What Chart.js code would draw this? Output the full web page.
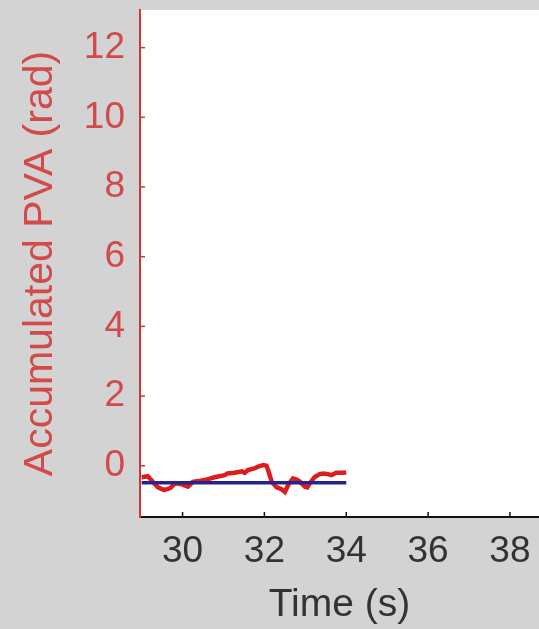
<!DOCTYPE html>
<html>
<head>
<meta charset="utf-8">
<script src="https://cdn.jsdelivr.net/npm/chart.js@4/dist/chart.umd.min.js"></script>
<style>
  html, body { margin: 0; padding: 0; background: #d3d3d3; }
  #wrap { width: 539px; height: 629px; }
</style>
</head>
<body>
<div id="wrap"><canvas id="chart" width="539" height="629"></canvas></div>
<script>
// Datos
const redTime = [29.00, 29.15, 29.27, 29.40, 29.55, 29.70, 29.82, 29.95, 30.13, 30.25, 30.40, 30.54,
  30.78, 31.03, 31.10, 31.27, 31.45, 31.52, 31.60, 31.77, 31.85, 31.97, 32.05, 32.09, 32.18, 32.30,
  32.40, 32.50, 32.58, 32.70, 32.80, 32.87, 32.99, 33.05, 33.11, 33.23, 33.35, 33.44, 33.55, 33.64,
  33.75, 33.89, 34.00];
const redPVA = [-0.33, -0.30, -0.46, -0.62, -0.70, -0.64, -0.50, -0.52, -0.60, -0.46, -0.44, -0.41,
  -0.33, -0.27, -0.22, -0.20, -0.16, -0.20, -0.12, -0.07, -0.02, 0.02, 0.00, -0.12, -0.46, -0.62,
  -0.66, -0.75, -0.55, -0.36, -0.40, -0.46, -0.60, -0.62, -0.50, -0.32, -0.24, -0.22, -0.24, -0.27,
  -0.20, -0.20, -0.19];
const blueTime = [29.00, 34.00];
const bluePVA = [-0.49, -0.49];
const xTicks = [30, 32, 34, 36, 38];
const yTicks = [0, 2, 4, 6, 8, 10, 12];

const RED_AXIS = '#cc3838';
const RED_TEXT = '#d24a4a';

const toPoints = (xs, ys) => xs.map((x, i) => ({ x: x, y: ys[i] }));

// Fondo blanco del área y marcas de eje hacia dentro (estilo Matlab)
const plotStyle = {
    id: 'plotStyle',
    beforeDraw(chart) {
        const { ctx, chartArea: a } = chart;
        ctx.save();
        ctx.fillStyle = '#ffffff';
        ctx.fillRect(a.left, a.top, a.right - a.left, a.bottom - a.top);
        ctx.restore();
    },
    afterDraw(chart) {
        const { ctx, chartArea: a, scales } = chart;
        ctx.save();
        ctx.lineWidth = 1.5;
        ctx.strokeStyle = '#111111';
        scales.x.ticks.forEach(t => {
            const px = scales.x.getPixelForValue(t.value);
            ctx.beginPath();
            ctx.moveTo(px, a.bottom);
            ctx.lineTo(px, a.bottom - 5);
            ctx.stroke();
        });
        ctx.strokeStyle = RED_AXIS;
        scales.y.ticks.forEach(t => {
            const py = scales.y.getPixelForValue(t.value);
            ctx.beginPath();
            ctx.moveTo(a.left, py);
            ctx.lineTo(a.left + 5, py);
            ctx.stroke();
        });
        ctx.restore();
    }
};

new Chart(document.getElementById('chart').getContext('2d'), {
    type: 'scatter',
    data: {
        datasets: [
            {
                data: toPoints(blueTime, bluePVA),
                showLine: true,
                borderColor: '#24248f',
                borderWidth: 3.5,
                pointRadius: 0,
                order: 0
            },
            {
                data: toPoints(redTime, redPVA),
                showLine: true,
                borderColor: '#dd1c1c',
                borderWidth: 4.5,
                pointRadius: 0,
                order: 1
            }
        ]
    },
    options: {
        responsive: false,
        animation: false,
        layout: { padding: { top: 10, right: 0, left: 0, bottom: 0 } },
        plugins: { legend: { display: false }, tooltip: { enabled: false } },
        scales: {
            x: {
                type: 'linear',
                min: 28.96,
                max: 38.71,
                afterBuildTicks: s => { s.ticks = xTicks.map(v => ({ value: v })); },
                afterFit: s => { s.height = 112; s.paddingLeft = 0; s.paddingRight = 0; },
                grid: { display: false, drawTicks: false },
                border: { display: true, color: '#111111', width: 2 },
                ticks: {
                    color: '#333333',
                    padding: 13,
                    maxRotation: 0,
                    font: { family: '"Liberation Sans", Arial, sans-serif', size: 37, lineHeight: 1.2 }
                },
                title: {
                    display: true,
                    text: 'Time (s)',
                    color: '#333333',
                    padding: { top: 0, bottom: 0 },
                    font: { family: '"Liberation Sans", Arial, sans-serif', size: 39, lineHeight: 1.2 }
                }
            },
            y: {
                type: 'linear',
                min: -1.47,
                max: 13.08,
                afterBuildTicks: s => { s.ticks = yTicks.map(v => ({ value: v })); },
                afterFit: s => { s.width = 140; s.paddingTop = 0; s.paddingBottom = 0; },
                grid: { display: false, drawTicks: false },
                border: { display: true, color: RED_AXIS, width: 2 },
                ticks: {
                    color: RED_TEXT,
                    padding: 15,
                    font: { family: '"Liberation Sans", Arial, sans-serif', size: 37, lineHeight: 1.2 }
                },
                title: {
                    display: true,
                    text: 'Accumulated PVA (rad)',
                    color: RED_TEXT,
                    padding: { top: 16, bottom: 0 },
                    font: { family: '"Liberation Sans", Arial, sans-serif', size: 41, lineHeight: 1.2 }
                }
            }
        }
    },
    plugins: [plotStyle]
});
</script>
</body>
</html>
